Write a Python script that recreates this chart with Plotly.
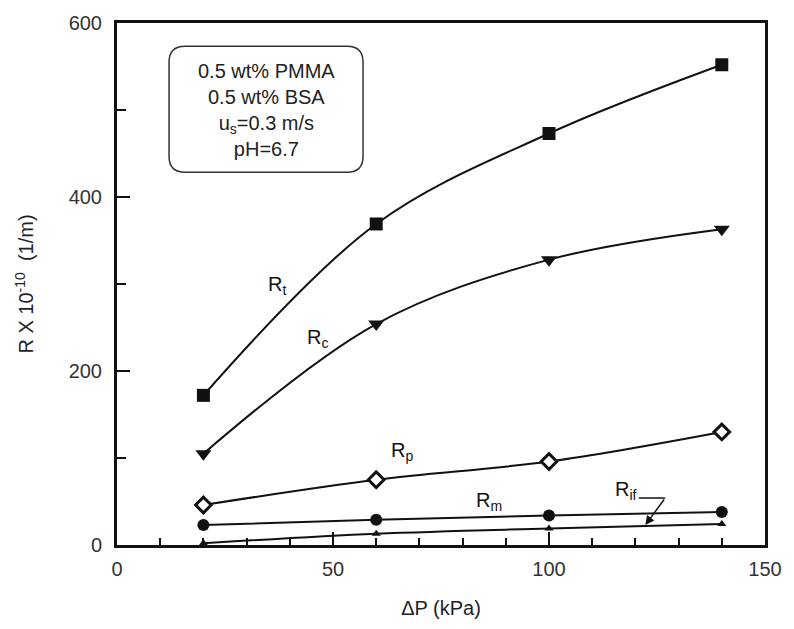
import plotly.graph_objects as go

# ---- data ----
dp = [20, 60, 100, 140]
R_t = [172, 369, 473, 552]
R_c = [105, 254, 328, 363]
R_p = [46, 75, 96, 130]
R_m = [23, 29, 34, 38]
R_if = [2, 13, 19, 24]

x_ticks = [0, 50, 100, 150]
y_ticks = [0, 200, 400, 600]

FONT = "Liberation Sans, Arial, sans-serif"
INK = "#111111"

fig = go.Figure()

def add(y, shape, size, shaped, open_=False, lw=2):
    fig.add_trace(go.Scatter(
        x=dp, y=y, mode="lines+markers",
        line=dict(color=INK, width=lw, shape=shaped, smoothing=1.0),
        marker=dict(symbol=shape, size=size,
                    color="white" if open_ else INK,
                    line=dict(color=INK, width=3 if open_ else 0)),
        showlegend=False, cliponaxis=False))

add(R_t, "square", 13, "spline")
add(R_c, "triangle-down", 14, "spline")
add(R_p, "diamond", 12, "spline", open_=True)
add(R_m, "circle", 12, "spline")
add(R_if, "triangle-up", 8, "spline")

ann = [
    dict(x=37, y=298, text="R<sub>t</sub>"),
    dict(x=46.5, y=237, text="R<sub>c</sub>"),
    dict(x=66, y=108, text="R<sub>p</sub>"),
    dict(x=86, y=50, text="R<sub>m</sub>"),
    dict(x=117.8, y=63, text="R<sub>if</sub>"),
]
annotations = []
for a in ann:
    annotations.append(dict(x=a["x"], y=a["y"], xref="x", yref="y", text=a["text"],
                            showarrow=False, font=dict(family=FONT, size=20, color=INK)))
# arrow for R_if
annotations.append(dict(x=122.3, y=23, xref="x", yref="y", ax=126.9, ay=54,
                        axref="x", ayref="y", text="", showarrow=True,
                        arrowhead=2, arrowsize=1.2, arrowwidth=1.5, arrowcolor=INK))
# info box text
annotations.append(dict(x=34.5, y=500, xref="x", yref="y",
                        text="0.5 wt% PMMA<br>0.5 wt% BSA<br>u<sub>s</sub>=0.3 m/s<br>pH=6.7",
                        showarrow=False, align="center",
                        font=dict(family=FONT, size=20, color="#222")))

w, h, r = 194, 126, 16
hw, hh = w / 2, h / 2
path = (f"M {-hw + r},{-hh} L {hw - r},{-hh} Q {hw},{-hh} {hw},{-hh + r} "
        f"L {hw},{hh - r} Q {hw},{hh} {hw - r},{hh} L {-hw + r},{hh} "
        f"Q {-hw},{hh} {-hw},{hh - r} L {-hw},{-hh + r} Q {-hw},{-hh} {-hw + r},{-hh} Z")

shapes = [
    dict(type="path", xref="x", yref="y", xsizemode="pixel", ysizemode="pixel",
         xanchor=34.5, yanchor=501, path=path,
         line=dict(color="#333", width=1.5), fillcolor="rgba(0,0,0,0)"),
    dict(type="line", xref="x", yref="y", x0=120.8, y0=54, x1=126.9, y1=54,
         line=dict(color=INK, width=1.5)),
]

fig.update_layout(
    width=794, height=629,
    margin=dict(l=117, r=24, t=22, b=84),
    paper_bgcolor="white", plot_bgcolor="white",
    font=dict(family=FONT, color="#222"),
    annotations=annotations, shapes=shapes,
    xaxis=dict(range=[0, 150], tickvals=x_ticks, ticktext=[str(v) for v in x_ticks],
               ticks="inside", ticklen=13, tickwidth=2, tickcolor=INK,
               minor=dict(dtick=10, ticks="inside", ticklen=7, tickwidth=2, tickcolor=INK),
               showline=True, linewidth=3, linecolor=INK, mirror=True,
               showgrid=False, zeroline=False, ticklabelstandoff=4,
               tickfont=dict(size=20, family=FONT, color="#333"),
               title=dict(text="ΔP (kPa)", font=dict(size=20, family=FONT, color="#222"),
                          standoff=22)),
    yaxis=dict(range=[0, 600], tickvals=y_ticks, ticktext=[str(v) for v in y_ticks],
               ticks="inside", ticklen=13, tickwidth=2, tickcolor=INK,
               minor=dict(dtick=100, ticks="inside", ticklen=9, tickwidth=2, tickcolor=INK),
               showline=True, linewidth=3, linecolor=INK, mirror=True,
               showgrid=False, zeroline=False, ticklabelstandoff=8,
               tickfont=dict(size=20, family=FONT, color="#333"),
               title=dict(text="R X 10<sup>-10</sup>  (1/m)",
                          font=dict(size=20, family=FONT, color="#222"), standoff=30)),
)

fig.write_html("out.html")
